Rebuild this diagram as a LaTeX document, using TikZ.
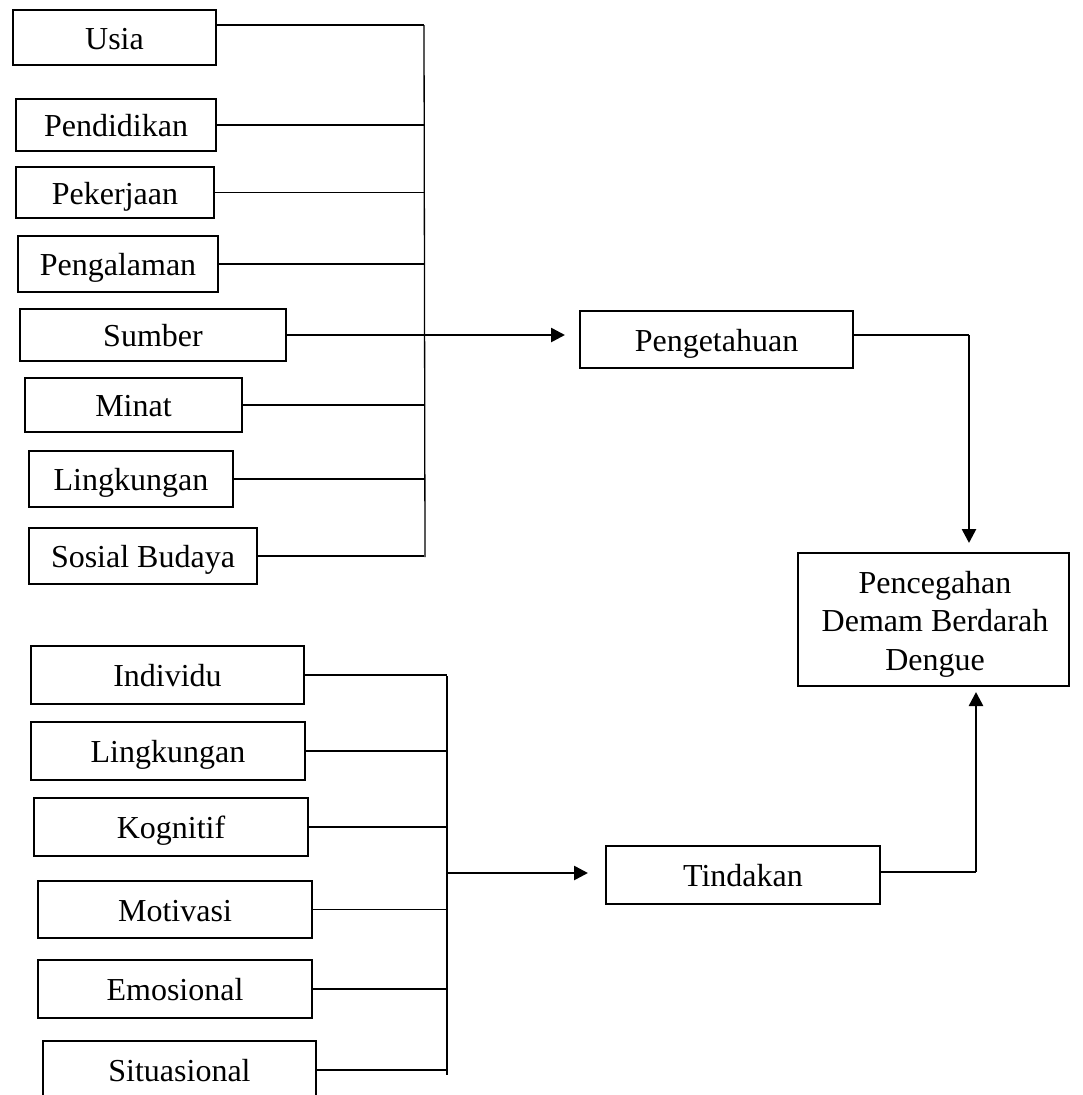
\documentclass[tikz,border=0pt]{standalone}
\usepackage{fontspec}
\setmainfont{Liberation Serif}
\usetikzlibrary{arrows.meta,calc}
\begin{document}
\begin{tikzpicture}[x=1pt,y=-1pt,
  box/.style={draw, line width=1.5pt, inner sep=0pt, outer sep=0pt,
    font=\fontsize{32pt}{38.5pt}\selectfont, text height=26pt, text depth=3pt},
  conn/.style={line width=1.3pt},
  arr/.style={line width=2.6pt, -{Triangle[length=14pt,width=14pt]}}]
\useasboundingbox (0,0) rectangle (1082,1095);
\clip (0,0) rectangle (1082,1095);
\fill[white] (0,0) rectangle (1082,1095);
% top group
\node[box, minimum width=203pt, minimum height=55pt] (usia) at (114.5,37.5) {Usia};
\node[box, minimum width=200pt, minimum height=52pt] (pend) at (116,125) {Pendidikan};
\node[box, minimum width=198pt, minimum height=51pt] (pek) at (115,192.5) {Pekerjaan};
\node[box, minimum width=200pt, minimum height=56pt] (pgl) at (118,264) {Pengalaman};
\node[box, minimum width=266pt, minimum height=52pt] (sumber) at (153,335) {Sumber};
\node[box, minimum width=217pt, minimum height=54pt] (minat) at (133.5,405) {Minat};
\node[box, minimum width=204pt, minimum height=56pt] (ling) at (131,479) {Lingkungan};
\node[box, minimum width=228pt, minimum height=56pt] (sosial) at (143,556) {Sosial Budaya};
% right side
\node[box, minimum width=273pt, minimum height=57pt] (peng) at (716.5,339.5) {Pengetahuan};
\node[box, minimum width=271pt, minimum height=133pt] (pcg) at (933.5,619.5) {};
\node[align=center, inner sep=0pt, font=\fontsize{32pt}{38.5pt}\selectfont] (pcgtext) at (935,624) {Pencegahan\\Demam Berdarah\\Dengue};
\node[box, minimum width=274pt, minimum height=58pt] (tind) at (743,875) {Tindakan};
% bottom group
\node[box, minimum width=273pt, minimum height=58pt] (indiv) at (167.5,675) {Individu};
\node[box, minimum width=274pt, minimum height=58pt] (ling2) at (168,751) {Lingkungan};
\node[box, minimum width=274pt, minimum height=58pt] (kog) at (171,827) {Kognitif};
\node[box, minimum width=274pt, minimum height=57pt] (mot) at (175,909.5) {Motivasi};
\node[box, minimum width=274pt, minimum height=58pt] (emo) at (175,989) {Emosional};
\node[box, minimum width=273pt, minimum height=58pt] (sit) at (179.5,1070) {Situasional};
% top bracket
\coordinate (bt) at (424,25);
\coordinate (bb) at (425,557);
\draw[conn] (bt) -- (bb);
\draw[conn] (usia.east |- bt) -- (bt);
\foreach \n in {pend,pek,pgl,sumber,minat,ling,sosial}
  \draw[conn] (\n.east) -- (\n.east -| bt);
\draw[arr, shorten >=15pt] (sumber.east -| bt) -- (sumber.east -| peng.west);
% Pengetahuan -> Pencegahan
\coordinate (c1) at (969,335);
\draw[conn] (peng.east |- c1) -- (c1);
\draw[arr, shorten >=10pt] (c1) -- (c1 |- pcg.north);
% bottom bracket
\coordinate (dt) at (447,676);
\coordinate (db) at (447,1075);
\draw[conn] (dt) -- (db);
\foreach \n in {indiv,ling2,kog,mot,emo,sit}
  \draw[conn] (\n.east) -- (\n.east -| dt);
\coordinate (c3) at (447,873);
\draw[arr, shorten >=18pt] (c3) -- (c3 -| tind.west);
% Tindakan -> Pencegahan
\coordinate (c2) at (976,872);
\draw[conn] (tind.east |- c2) -- (c2);
\draw[arr, shorten >=6pt] (c2) -- (c2 |- pcg.south);
\end{tikzpicture}
\end{document}
